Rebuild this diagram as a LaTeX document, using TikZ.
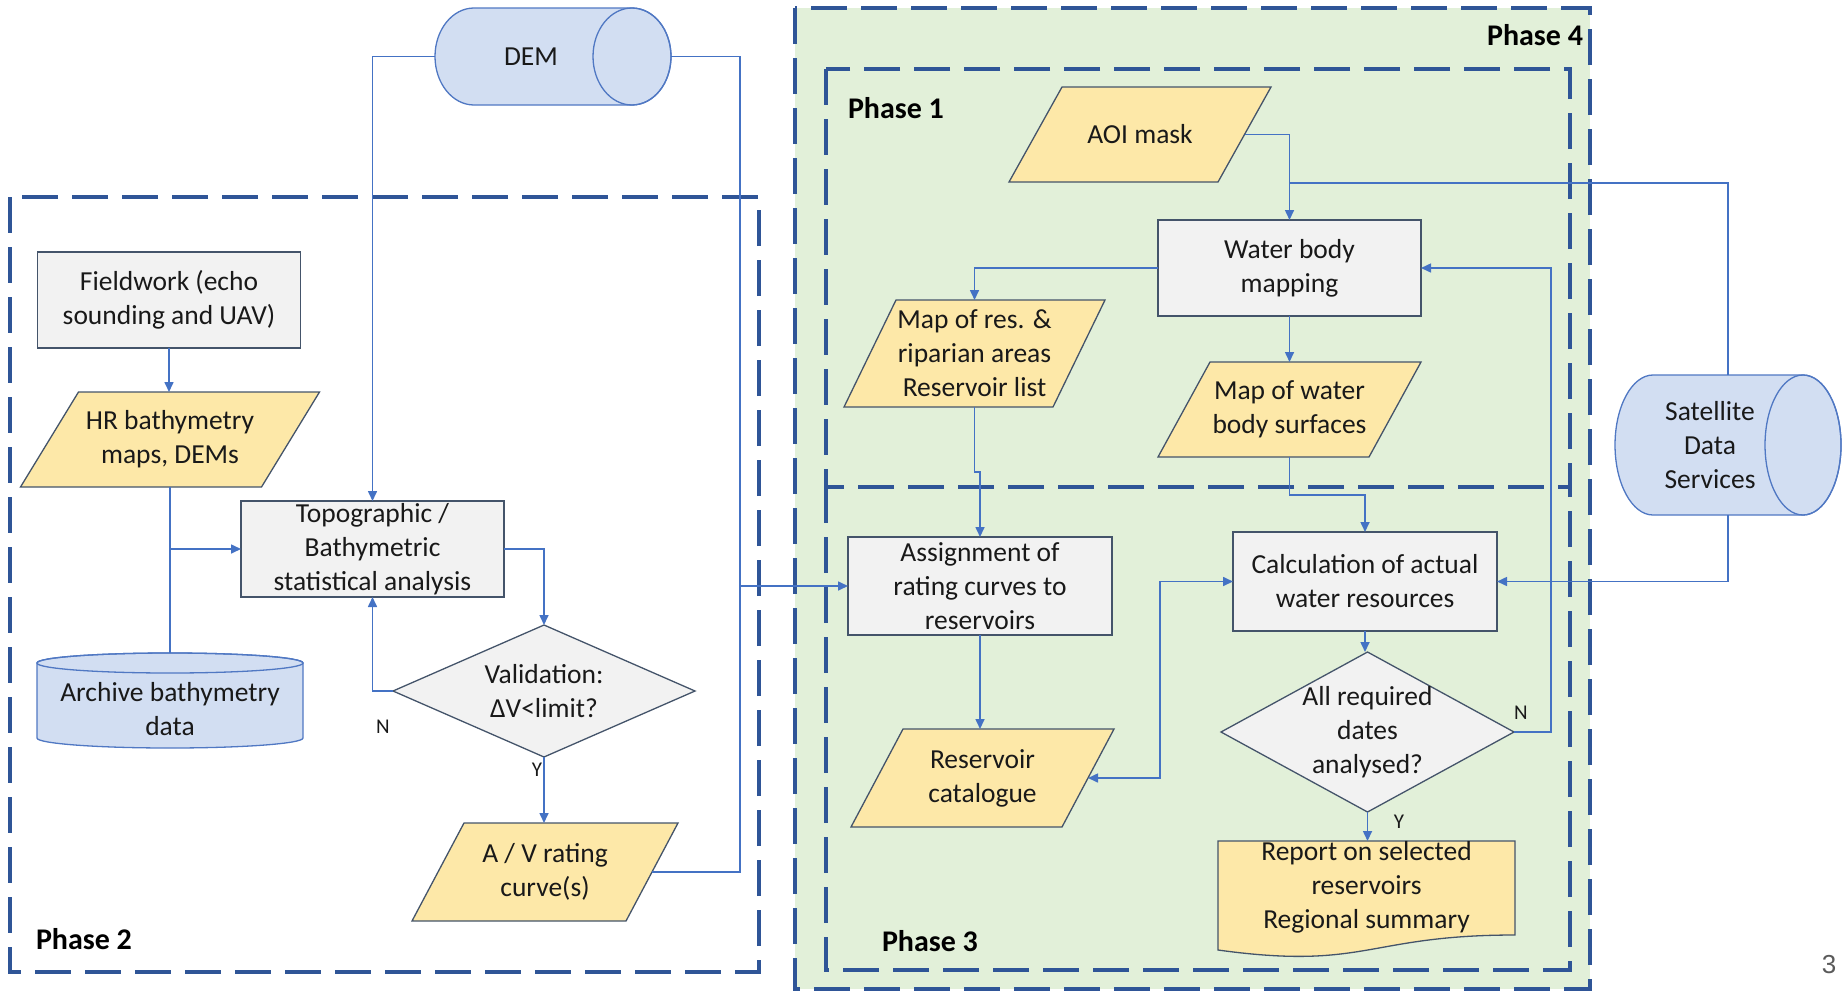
\documentclass[tikz,border=0pt]{standalone}
\usepackage{fontspec}
\setmainfont{Carlito}
\newfontfamily\numfont{Liberation Sans}
\usetikzlibrary{arrows.meta}
\definecolor{framecol}{RGB}{47,85,151}
\definecolor{conncol}{RGB}{68,114,196}
\definecolor{greenbg}{RGB}{226,240,217}
\definecolor{procfill}{RGB}{242,242,242}
\definecolor{procline}{RGB}{68,84,106}
\definecolor{parafill}{RGB}{253,232,168}
\definecolor{cylfill}{RGB}{210,222,242}
\definecolor{cylline}{RGB}{80,120,195}
\definecolor{txtcol}{RGB}{25,25,25}
\definecolor{numcol}{RGB}{90,90,90}

\tikzset{
 base/.style={outer sep=0pt, inner sep=0pt, align=center, text=txtcol, font=\fontsize{27.5}{34}\selectfont},
 plain/.style={base},
 procshape/.style={draw=procline, fill=procfill, line width=1.3pt},
 parashape/.style={draw=procline, fill=parafill, line width=1.3pt},
 diashape/.style={draw=procline, fill=procfill, line width=1.3pt},
 cylshape/.style={draw=cylline, fill=cylfill, line width=1.3pt},
 phaseframe/.style={draw=framecol, line width=4.5pt, dash pattern=on 36pt off 14pt},
 phaselabel/.style={font=\fontsize{30}{36}\selectfont\bfseries, text=black, inner sep=0pt, outer sep=0pt},
 link/.style={draw=conncol, line width=1.6pt},
 arr/.style={link, -{Triangle[length=10pt,width=9pt]}},
 darr/.style={link, {Triangle[length=10pt,width=9pt]}-{Triangle[length=10pt,width=9pt]}},
 yn/.style={font=\fontsize{21}{24}\selectfont, text=txtcol, inner sep=0pt},
}

% parallelogram: name, cx, cy, w, h, slant, text
\newcommand\parab[7]{%
 \filldraw[parashape] ({#2-#4/2},{#3+#5/2}) -- ({#2+#4/2-#6},{#3+#5/2}) -- ({#2+#4/2},{#3-#5/2}) -- ({#2-#4/2+#6},{#3-#5/2}) -- cycle;
 \node[plain, minimum width={#4-#6}, minimum height={#5}] (#1) at (#2,#3) {#7};}
% process box: name, cx, cy, w, h, text
\newcommand\procb[6]{%
 \filldraw[procshape] ({#2-#4/2},{#3-#5/2}) rectangle ({#2+#4/2},{#3+#5/2});
 \node[plain, minimum width={#4}, minimum height={#5}] (#1) at (#2,#3) {#6};}
% decision diamond: name, cx, cy, w, h, text
\newcommand\diamb[6]{%
 \filldraw[diashape] ({#2-#4/2},#3) -- (#2,{#3-#5/2}) -- ({#2+#4/2},#3) -- (#2,{#3+#5/2}) -- cycle;
 \node[plain, minimum width={#4}, minimum height={#5}] (#1) at (#2,#3) {#6};}

\begin{document}
\begin{tikzpicture}[x=1pt,y=-1pt]
\useasboundingbox (0,0) rectangle (1843,993);

% ---------- phase frames ----------
\fill[greenbg] (795,8) rectangle (1590,989);
\draw[phaseframe] (795,8) rectangle (1590,989);
\draw[phaseframe] (826,69) rectangle (1570,487);
\draw[phaseframe] (826,487) -- (826,970) -- (1570,970) -- (1570,487);
\draw[phaseframe] (10,197) rectangle (759,972);
\node[phaselabel, anchor=east] (ph4) at (1583,35) {Phase 4};
\node[phaselabel, anchor=west] (ph1) at (848,108) {Phase 1};
\node[phaselabel, anchor=west] (ph2) at (36,939) {Phase 2};
\node[phaselabel, anchor=west] (ph3) at (882,941) {Phase 3};

% ---------- cylinders ----------
% DEM
\filldraw[cylshape] (474,8) arc (-90:-270:39 and 48.5) -- (632,105) arc (90:-90:39 and 48.5) -- cycle;
\draw[cylshape, fill=none] (632,56.5) ellipse (39 and 48.5);
\node[plain, minimum width=236, minimum height=97] (dem) at (553,56.5) {};
\node[plain] (demtext) at (531,56.5) {DEM};
% Satellite
\filldraw[cylshape] (1653,375) arc (-90:-270:38 and 70) -- (1803,515) arc (90:-90:38 and 70) -- cycle;
\draw[cylshape, fill=none] (1803,445) ellipse (38 and 70);
\node[plain, minimum width=226, minimum height=140] (sat) at (1728,445) {};
\node[plain] (sattext) at (1710,445) {Satellite\\Data\\Services};
% Archive
\filldraw[cylshape] (37,663) -- (37,738) arc (180:0:133 and 10) -- (303,663) arc (0:-180:133 and 10) -- cycle;
\draw[cylshape, fill=none] (170,663) ellipse (133 and 10);
\node[plain, minimum width=266, minimum height=112] (archive) at (170,709) {Archive bathymetry\\data};

% ---------- phase 2 ----------
\procb{field}{169}{300}{263}{96}{Fieldwork (echo\\sounding and UAV)}
\parab{hr}{170}{439.5}{299}{95}{58}{HR bathymetry\\maps, DEMs}
\procb{topo}{372.5}{549}{263}{96}{Topographic /\\Bathymetric\\statistical analysis}
\diamb{valid}{544}{691}{302}{132}{Validation:\\ΔV<limit?}
\parab{av}{545}{872}{266}{98}{52}{A / V rating\\curve(s)}

% ---------- phase 1 ----------
\parab{aoi}{1140}{134.5}{262}{95}{53}{AOI mask}
\procb{water}{1289.5}{268}{263}{96}{Water body\\mapping}
\parab{mapres}{974.5}{353.5}{261}{107}{52}{Map of res. \&\\riparian areas\\Reservoir list}
\parab{mapwater}{1289.5}{409.5}{263}{95}{52}{Map of water\\body surfaces}

% ---------- phase 3 ----------
\procb{assign}{980}{586}{264}{98}{Assignment of\\rating curves to\\reservoirs}
\procb{calc}{1365}{581.5}{264}{99}{Calculation of actual\\water resources}
\diamb{alldates}{1367.5}{732}{293}{160}{All required\\dates\\analysed?}
\parab{rescat}{982.5}{778}{263}{98}{52}{Reservoir\\catalogue}
\filldraw[parashape] (1218,841) -- (1515,841) -- (1515,935) .. controls (1366.5,935) and (1366.5,970.5) .. (1218,950) -- cycle;
\node[plain, minimum width=297, minimum height=92] (report) at (1366.5,887) {Report on selected\\reservoirs\\Regional summary};

% ---------- connectors ----------
\coordinate (j1) at (740,586);
\coordinate (j2) at (170,549);
\coordinate (j3) at (1289.5,183);
\draw[arr] (dem.west) -| (topo.north);
\draw[link] (dem.east) -| (j1);
\draw[link] (av.east) -| (j1);
\draw[arr] (j1) -- (assign.west);
\draw[arr] (field.south) -- (field.south |- hr.north);
\draw[link] (hr.south) -- (archive.north);
\draw[arr] (j2) -- (topo.west);
\draw[arr] (topo.east) -| (valid.north);
\draw[arr] (valid.west) -| (topo.south);
\draw[arr] (valid.south) -- (valid.south |- av.north);
\node[yn] (n1) at (383,727) {N};
\node[yn] (y1) at (537,770) {Y};

\draw[arr] (aoi.east) -| (water.north);
\draw[link] (sat.north) |- (j3);
\draw[arr] (water.west) -| (mapres.north);
\draw[arr] (water.south) -- (mapwater.north);
\draw[arr] (mapres.south) -- ++(0,65) -| (assign.north);
\draw[arr] (mapwater.south) -- ++(0,38) -| (calc.north);
\draw[arr] (assign.south) -- (assign.south |- rescat.north);
\draw[darr] (rescat.east) -- ++(72,0) |- (calc.west);
\draw[arr] (calc.south) -- (calc.south |- alldates.north);
\draw[arr] (alldates.east) -- ++(37,0) |- (water.east);
\draw[arr] (alldates.south) -- (alldates.south |- report.north);
\draw[arr] (sat.south) |- (calc.east);
\node[yn] (n2) at (1521,713) {N};
\node[yn] (y2) at (1399,822) {Y};

\node[font=\numfont\fontsize{26}{30}\selectfont, text=numcol, inner sep=0pt] (pagenum) at (1829,965) {3};
\end{tikzpicture}
\end{document}
